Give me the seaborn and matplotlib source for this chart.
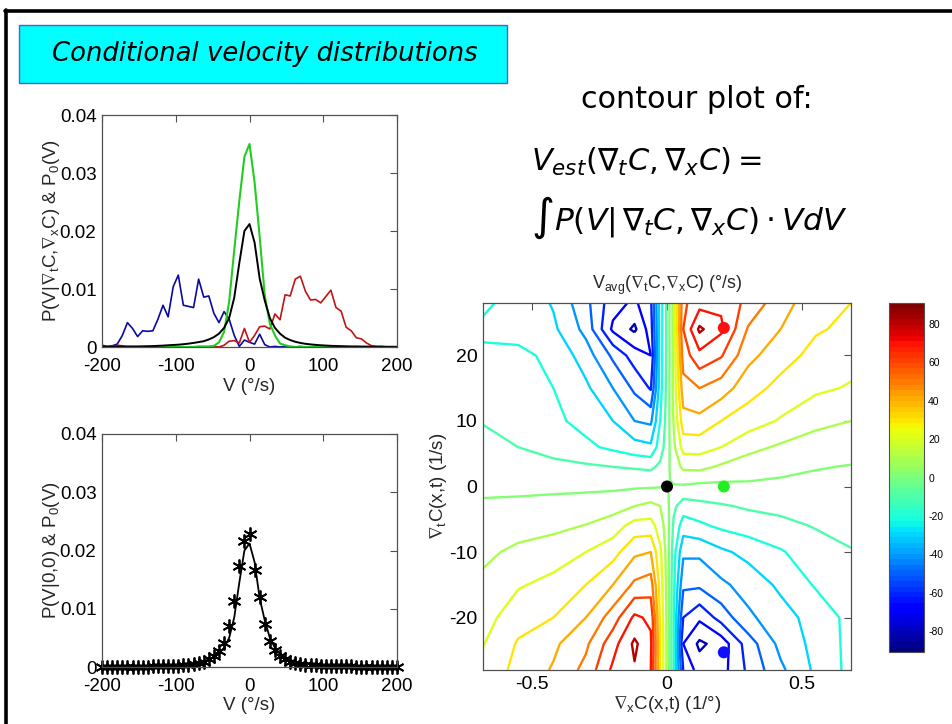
import numpy as np
import matplotlib
matplotlib.use("Agg")
import matplotlib.pyplot as plt
import seaborn as sns
from matplotlib.colors import ListedColormap, Normalize
from matplotlib.patches import Rectangle
from matplotlib.lines import Line2D
from matplotlib.cm import ScalarMappable

# ---------------- data ----------------
V = np.linspace(-200, 200, 59)  # velocity bins (deg/s)

P_blue = [0.0003, 0.0001, 0.0002, 0.0005, 0.0020, 0.0042, 0.0032, 0.0018, 0.0028, 0.0027,
          0.0028, 0.0048, 0.0072, 0.0052, 0.0104, 0.0124, 0.0072, 0.0070, 0.0068, 0.0117,
          0.0086, 0.0088, 0.0058, 0.0042, 0.0061, 0.0048, 0.0020, 0.0001, 0.0012, 0.0008,
          0.0005, 0.0022, 0.0004, 0.0000, 0.0001, 0.0000, 0.0001, 0.0000, 0.0000, 0.0001,
          0.0000, 0.0000, 0.0001, 0.0000, 0.0000, 0.0000, 0.0000, 0.0000, 0.0000, 0.0000,
          0.0000, 0.0000, 0.0000, 0.0000, 0.0000, 0.0000, 0.0000, 0.0000, 0.0000]

P_green = [0.0, 0.0, 0.0, 0.0, 0.0, 0.0, 0.0, 0.0, 0.0, 0.0,
           0.0, 0.0, 0.0, 0.0, 0.0, 0.0, 0.0, 0.0, 0.0, 0.0001,
           0.0001, 0.0001, 0.0002, 0.0008, 0.0026, 0.0078, 0.0167, 0.0252, 0.0328, 0.0350,
           0.0284, 0.0190, 0.0089, 0.0040, 0.0020, 0.0006, 0.0003, 0.0001, 0.0, 0.0,
           0.0, 0.0, 0.0, 0.0, 0.0, 0.0, 0.0, 0.0, 0.0, 0.0,
           0.0, 0.0, 0.0, 0.0, 0.0, 0.0, 0.0, 0.0, 0.0]

P_red = [0.0, 0.0, 0.0001, 0.0003, 0.0002, 0.0, 0.0, 0.0, 0.0, 0.0,
         0.0, 0.0, 0.0, 0.0, 0.0, 0.0, 0.0, 0.0, 0.0, 0.0,
         0.0, 0.0, 0.0001, 0.0, 0.0003, 0.0010, 0.0011, 0.0007, 0.0032, 0.0008,
         0.0020, 0.0035, 0.0036, 0.0031, 0.0057, 0.0047, 0.0090, 0.0088, 0.0117, 0.0122,
         0.0096, 0.0081, 0.0082, 0.0076, 0.0087, 0.0098, 0.0068, 0.0062, 0.0034, 0.0028,
         0.0016, 0.0014, 0.0007, 0.0002, 0.0001, 0.0001, 0.0, 0.0, 0.0]

P0 = [0.00005, 0.00005, 0.00006, 0.00007, 0.00008, 0.0001, 0.0001, 0.0001, 0.00012, 0.00014,
      0.00016, 0.0002, 0.00024, 0.0003, 0.00035, 0.0004, 0.00048, 0.00058, 0.0007, 0.00085,
      0.0010, 0.0013, 0.0017, 0.0023, 0.0033, 0.0050, 0.0085, 0.0145, 0.0200, 0.0212,
      0.0180, 0.0118, 0.0080, 0.0050, 0.0033, 0.0023, 0.0016, 0.0012, 0.0009, 0.0007,
      0.00055, 0.00045, 0.00037, 0.0003, 0.00025, 0.0002, 0.00017, 0.00015, 0.00012, 0.0001,
      0.0001, 0.00008, 0.00007, 0.00006, 0.00005, 0.00005, 0.00004, 0.00004, 0.00003]

P_00 = [0.00002, 0.00002, 0.00003, 0.00003, 0.00004, 0.00004, 0.00005, 0.00006, 0.00007, 0.00008,
        0.0001, 0.0001, 0.00012, 0.00015, 0.0002, 0.00025, 0.0003, 0.0004, 0.0005, 0.0007,
        0.0009, 0.0013, 0.0019, 0.0027, 0.0042, 0.0070, 0.0113, 0.0173, 0.0217, 0.0228,
        0.0166, 0.0120, 0.0073, 0.0045, 0.0030, 0.0019, 0.0013, 0.0009, 0.0007, 0.0005,
        0.0004, 0.00035, 0.0003, 0.00025, 0.0002, 0.00017, 0.00015, 0.00012, 0.0001, 0.0001,
        0.00008, 0.00007, 0.00006, 0.00005, 0.00004, 0.00004, 0.00003, 0.00003, 0.00002]

# contour field V_avg(grad_t C, grad_x C)
grad_x = [-0.68, -0.55, -0.42, -0.3, -0.2, -0.12, -0.06, -0.025, 0.0,
          0.025, 0.06, 0.12, 0.2, 0.3, 0.42, 0.55, 0.68]
grad_t = [-28, -24, -20, -15, -10, -6, -3, -1, 0, 1, 3, 6, 10, 15, 20, 24, 28]
V_avg = [
    [23, 33, 41, 53, 72, 79, 70, 30, 8, -20, -60, -75, -74, -58, -42, -28, -17],
    [19.5, 31, 38, 48, 66, 82, 72, 30, 8, -20, -70, -82, -76, -55, -37, -27, -17],
    [16, 26, 30, 40, 55, 72, 68, 28, 8, -20, -60, -68, -56, -42, -34, -26, -17],
    [12, 19, 23, 30, 40, 52, 55, 26, 7, -18, -48, -48, -42, -36, -28, -19, -15],
    [8, 12, 15, 20, 26, 38, 40, 22, 6, -16, -38, -38, -32, -27, -21, -14, -10.5],
    [4.2, 6.3, 7.6, 10.4, 15, 24, 24, 15, 5, -12, -25, -22, -18, -15, -12.5, -9.4, -7.4],
    [1.3, 2, 3, 4.2, 6, 10, 13, 10, 3, -8, -15, -13, -11, -8.8, -7.5, -6.1, -5.1],
    [-0.8, -0.7, -0.3, 0.1, 0.5, 2, 3, 3, 1.5, -5, -6, -5.6, -5.1, -4.2, -4.2, -3.9, -3.6],
    [-1.8, -1.6, -1.4, -1.2, -1.1, -1, -0.8, -0.5, 0.2, -1, -1.3, -1.85, -2.1, -1.9, -2.5, -2.8, -2.8],
    [-2.5, -3, -3.5, -4, -4.2, -4.5, -4.5, -4, -1.5, 2, 3.5, 1.85, 0.9, 0.5, -0.8, -1.7, -2],
    [-4.3, -6, -7, -8.5, -10, -11, -12, -8, -3, 5, 12, 13, 8.5, 5, 3.5, 0.6, -0.5],
    [-7, -10, -14, -18, -22, -26, -28, -15, -5, 8, 24, 24, 20, 13, 8.5, 6.5, 4],
    [-10.5, -14, -18, -23, -30, -40, -42, -20, -6, 11, 36, 37, 30, 25, 19, 12, 10],
    [-14, -16, -20, -28, -40, -52, -61, -24, -7, 13, 46, 50, 45, 34, 27, 22, 19],
    [-19, -18, -22, -35, -52, -65, -70, -25, -8, 13, 55, 67, 61, 43, 34, 27, 24],
    [-21, -23, -28, -43, -72, -82, -65, -25, -8, 14, 60, 82, 72, 49, 40, 31, 28],
    [-19, -22, -31, -47, -66, -72, -62, -25, -8, 14, 58, 66, 68, 57, 44, 34, 30],
]
levels = [-80, -70, -60, -50, -40, -30, -20, -10, 0, 10, 20, 30, 40, 50, 60, 70, 80]

dot_x = [0.0, 0.21, 0.21, 0.21]
dot_y = [0.0, 0.0, 24.2, -25.3]
dot_names = ["(0,0)", "(0,0.21)", "(24,0.21)", "(-25,0.21)"]
dot_colors = ["#000000", "#22ee22", "#ff1010", "#1010ff"]

cbar_ticks = [-80, -60, -40, -20, 0, 20, 40, 60, 80]
prob_ticks = [0, 0.01, 0.02, 0.03, 0.04]
prob_labels = ["0", "0.01", "0.02", "0.03", "0.04"]
v_ticks = [-200, -100, 0, 100, 200]

# ---------------- style ----------------
sns.set_theme(style="white")
plt.rcParams["font.family"] = ["Liberation Sans", "DejaVu Sans"]
plt.rcParams["axes.unicode_minus"] = False
plt.rcParams["mathtext.fontset"] = "custom"
plt.rcParams["mathtext.rm"] = "Liberation Sans"
plt.rcParams["mathtext.it"] = "Liberation Sans:italic"
plt.rcParams["mathtext.fallback"] = "stixsans"

W, H = 953, 724
fig = plt.figure(figsize=(W / 100, H / 100), dpi=100)
fig.patch.set_facecolor("white")


def box(l, t, r, b):
    return [l / W, 1 - b / H, (r - l) / W, (b - t) / H]


def fx(x):
    return x / W


def fy(y):
    return 1 - y / H


# slide border
fig.add_artist(Line2D([fx(6), fx(6)], [fy(10), fy(730)], color="black", lw=2.6))
fig.add_artist(Line2D([fx(5), fx(960)], [fy(10.5), fy(10.5)], color="black", lw=2.6))

# title box
fig.add_artist(Rectangle((fx(19), fy(83)), (507 - 19) / W, (83 - 25) / H,
                         facecolor="#00ffff", edgecolor="#5a5ad0", lw=1.0))
fig.text(fx(265), fy(54), "Conditional velocity distributions", ha="center", va="center",
         fontsize=18.6, fontstyle="italic", family=["DejaVu Sans"], color="black")

# right-side text
fig.text(fx(697), fy(99), "contour plot of:", ha="center", va="center",
         fontsize=21.8, family=["DejaVu Sans"], color="black")
fig.text(fx(531), fy(162), r"$V_{est}(\nabla_{t}C,\nabla_{x}C) =$", ha="left", va="center",
         fontsize=22, math_fontfamily="dejavusans", color="black")
fig.text(fx(531), fy(218), r"$\int P(V|\,\nabla_{t}C,\nabla_{x}C)\cdot VdV$", ha="left", va="center",
         fontsize=22.5, math_fontfamily="dejavusans", color="black")

spine_col = "#505050"


def style_axes(ax, fs=13.5, xpad=8):
    for s in ax.spines.values():
        s.set_color(spine_col)
        s.set_linewidth(0.9)
    ax.tick_params(direction="in", top=True, right=True, length=5, width=0.8,
                   colors=spine_col, labelcolor="black", labelsize=fs)
    ax.tick_params(axis="x", pad=xpad)
    ax.tick_params(axis="y", pad=4)


# ---------- top-left: conditional distributions ----------
ax1 = fig.add_axes(box(102, 115, 397, 347))
sns.lineplot(x=V, y=P_blue, ax=ax1, color="#0a0aa0", lw=1.2)
sns.lineplot(x=V, y=P_red, ax=ax1, color="#c01515", lw=1.2)
sns.lineplot(x=V, y=P_green, ax=ax1, color="#22cc22", lw=1.5)
sns.lineplot(x=V, y=P0, ax=ax1, color="black", lw=1.4)
ax1.set_xlim(-200, 200)
ax1.set_ylim(0, 0.04)
ax1.set_xticks(v_ticks)
ax1.set_yticks(prob_ticks)
ax1.set_yticklabels(prob_labels)
style_axes(ax1)
ax1.set_xlabel("V (°/s)", fontsize=13.5, labelpad=2)
ax1.set_ylabel(r"P(V|$\nabla_{\rm t}$C,$\nabla_{\rm x}$C) & P$_{\rm 0}$(V)", fontsize=13.5)
ax1.yaxis.set_label_coords(-0.135, 0.5)

# ---------- bottom-left: P(V|0,0) ----------
ax2 = fig.add_axes(box(102, 434, 397, 667))
sns.lineplot(x=V, y=P0, ax=ax2, color="black", lw=1.3)
sns.lineplot(x=V, y=P_00, ax=ax2, color="black", lw=0, marker=(6, 2, 0),
             markersize=10, markeredgewidth=1.3, markeredgecolor="black", clip_on=False)
ax2.set_xlim(-200, 200)
ax2.set_ylim(0, 0.04)
ax2.set_xticks(v_ticks)
ax2.set_yticks(prob_ticks)
ax2.set_yticklabels(prob_labels)
style_axes(ax2)
ax2.set_xlabel("V (°/s)", fontsize=13.5, labelpad=1)
ax2.set_ylabel(r"P(V|0,0) & P$_{\rm 0}$(V)", fontsize=13.5)
ax2.yaxis.set_label_coords(-0.135, 0.5)

# ---------- contour plot ----------
cmap = ListedColormap(plt.get_cmap("jet")(np.linspace(0, 1, 64)))
norm = Normalize(vmin=-91, vmax=91)
ax3 = fig.add_axes(box(483, 303, 851, 670))
ax3.contour(grad_x, grad_t, np.array(V_avg), levels=levels, cmap=cmap, norm=norm,
            linewidths=1.7)
sns.scatterplot(x=dot_x, y=dot_y, hue=dot_names, palette=dict(zip(dot_names, dot_colors)),
                s=75, edgecolor="none", ax=ax3, legend=False, zorder=5)
ax3.set_xlim(-0.68, 0.68)
ax3.set_ylim(-28, 28)
ax3.set_xticks([-0.5, 0, 0.5])
ax3.set_xticklabels(["-0.5", "0", "0.5"])
ax3.set_yticks([-20, -10, 0, 10, 20])
style_axes(ax3, fs=14, xpad=4)
ax3.set_xlabel(r"$\nabla_{\rm x}$C(x,t) (1/°)", fontsize=13.5, labelpad=1)
ax3.set_ylabel(r"$\nabla_{\rm t}$C(x,t) (1/s)", fontsize=13.5, labelpad=0)
ax3.set_title(r"V$_{\rm avg}$($\nabla_{\rm t}$C,$\nabla_{\rm x}$C) (°/s)", fontsize=12.8, pad=10)

# ---------- colorbar ----------
cax = fig.add_axes(box(889, 303, 924, 652))
cb = fig.colorbar(ScalarMappable(norm=norm, cmap=cmap), cax=cax)
cb.set_ticks(cbar_ticks)
cb.outline.set_edgecolor(spine_col)
cb.outline.set_linewidth(0.8)
cax.tick_params(direction="in", length=3, width=0.6, colors=spine_col, labelcolor="black",
                labelsize=7.5, left=True, right=True, pad=3)

fig.savefig("out.png", dpi=100, facecolor="white")
